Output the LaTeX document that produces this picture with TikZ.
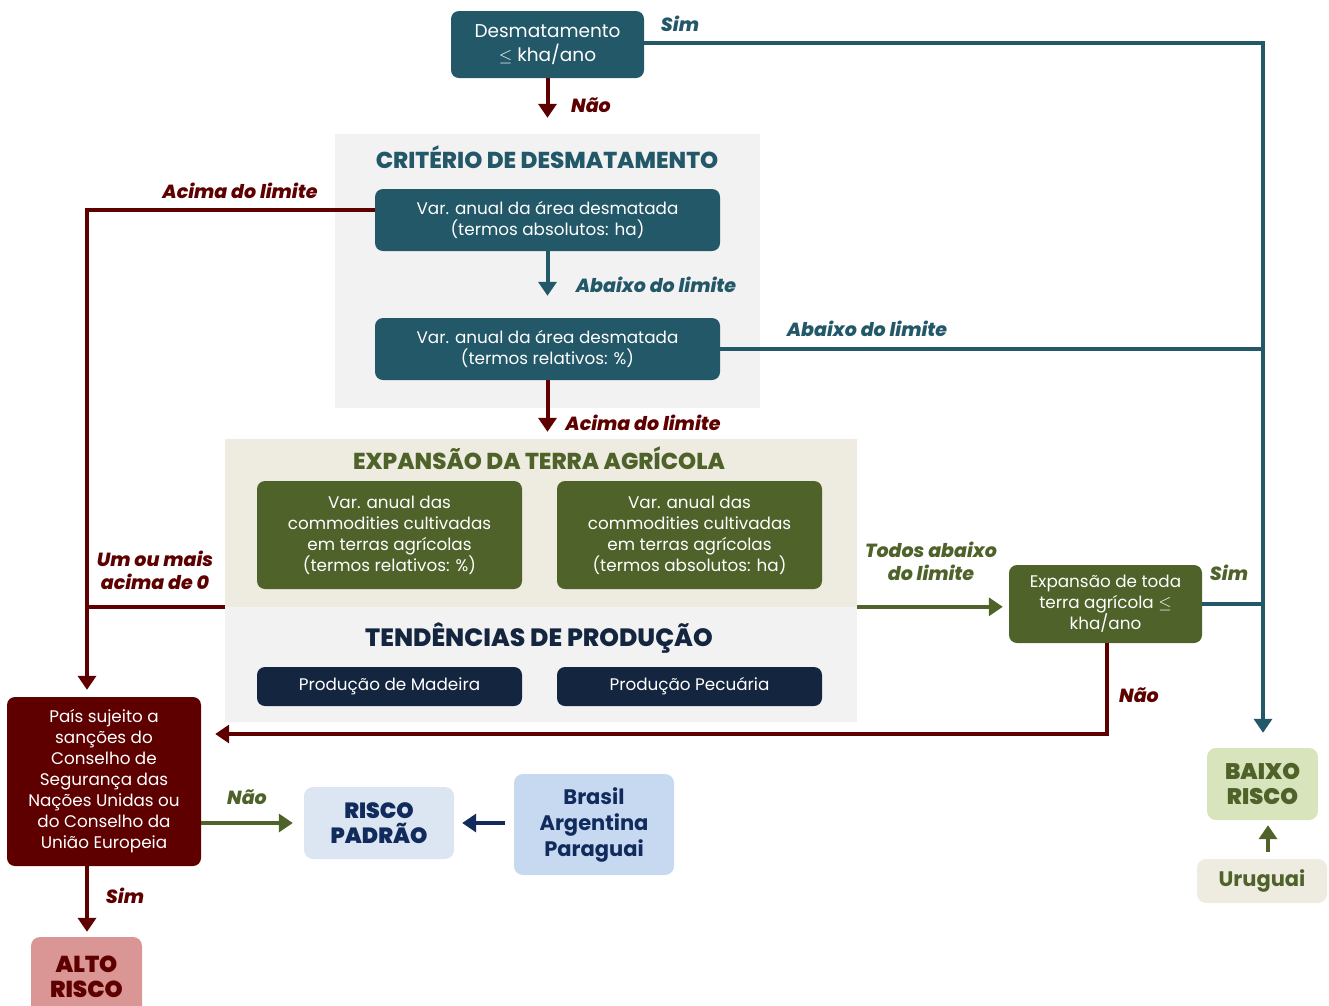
\documentclass[tikz,border=0pt]{standalone}
\usepackage{fontspec}
\setmainfont{Poppins}
\newfontfamily\heavy{Poppins}[UprightFont=* ExtraBold, ItalicFont=* ExtraBold Italic, BoldFont=* Black, BoldItalicFont=* Black Italic]
\usetikzlibrary{arrows.meta,calc}
\definecolor{teal}{HTML}{235868}
\definecolor{dred}{HTML}{5E0000}
\definecolor{olive}{HTML}{4E6229}
\definecolor{navy}{HTML}{13253F}
\definecolor{navyt}{HTML}{102B5C}
\definecolor{lgrey}{HTML}{F2F2F2}
\definecolor{beige}{HTML}{EEEBE0}
\definecolor{altobg}{HTML}{DA9694}
\definecolor{padbg}{HTML}{DCE6F2}
\definecolor{brbg}{HTML}{C6D9F1}
\definecolor{baixobg}{HTML}{D8E4BC}
\definecolor{urubg}{HTML}{EEECE1}
\tikzset{
  box/.style={rounded corners=8pt, align=center, inner sep=0pt, text=white,
    font=\fontsize{16.8}{21}\selectfont},
  panel/.style={inner sep=0pt, draw=none},
  conn/.style={line width=4pt},
  arr/.style={conn, -{Triangle[width=18pt,length=14pt]}},
  lbl/.style={font=\fontsize{19}{20}\selectfont\heavy\itshape, align=center},
  ttl/.style={font=\fontsize{23}{26}\selectfont\heavy},
  res/.style={rounded corners=9pt, align=center, inner sep=0pt,
    font=\fontsize{22.5}{25}\selectfont\heavy\bfseries},
}
\begin{document}
\begin{tikzpicture}[x=1pt,y=-1pt]
\useasboundingbox (0,0) rectangle (1329,1005);
% panels
\node[panel, fill=lgrey, minimum width=425pt, minimum height=274pt] (crit) at (547.5,271) {};
\node[panel, fill=beige, minimum width=632pt, minimum height=168pt] (expan) at (541,523) {};
\node[panel, fill=lgrey, minimum width=632pt, minimum height=115pt] (tend) at (541,664.5) {};
\node[ttl, text=teal] (critt) at (547,157) {CRITÉRIO DE DESMATAMENTO};
\node[ttl, text=olive] (expt) at (539,458) {EXPANSÃO DA TERRA AGRÍCOLA};
\node[ttl, text=navy, font=\fontsize{25}{28}\selectfont\heavy] (tendt) at (539,638) {TENDÊNCIAS DE PRODUÇÃO};
% boxes
\node[box, fill=teal, minimum width=193pt, minimum height=67pt, font=\fontsize{18.5}{24}\selectfont] (desm) at (547.5,44.5) {Desmatamento\\$\leq$ kha/ano};
\node[box, fill=teal, minimum width=345pt, minimum height=62pt] (b1) at (547.5,220) {Var. anual da área desmatada\\(termos absolutos: ha)};
\node[box, fill=teal, minimum width=345pt, minimum height=62pt] (b2) at (547.5,349) {Var. anual da área desmatada\\(termos relativos: \%)};
\node[box, fill=olive, minimum width=265pt, minimum height=108pt] (g1) at (389.5,535) {Var. anual das\\commodities cultivadas\\em terras agrícolas\\(termos relativos: \%)};
\node[box, fill=olive, minimum width=265pt, minimum height=108pt] (g2) at (689.5,535) {Var. anual das\\commodities cultivadas\\em terras agrícolas\\(termos absolutos: ha)};
\node[box, fill=navy, minimum width=265pt, minimum height=39pt] (n1) at (389.5,686.5) {Produção de Madeira};
\node[box, fill=navy, minimum width=265pt, minimum height=39pt] (n2) at (689.5,686.5) {Produção Pecuária};
\node[box, fill=olive, minimum width=193pt, minimum height=78pt] (ext) at (1105.5,604) {Expansão de toda\\terra agrícola $\leq$\\kha/ano};
\node[box, fill=dred, minimum width=194pt, minimum height=169pt] (sanc) at (104,781.5) {País sujeito a\\sanções do\\Conselho de\\Segurança das\\Nações Unidas ou\\do Conselho da\\União Europeia};
\node[res, fill=altobg, text=dred, minimum width=111pt, minimum height=80pt, font=\fontsize{23}{25}\selectfont\heavy\bfseries] (alto) at (86.5,977) {ALTO\\RISCO};
\node[res, fill=padbg, text=navyt, minimum width=150pt, minimum height=72pt, font=\fontsize{22}{25}\selectfont\heavy\bfseries] (pad) at (379,823) {RISCO\\PADRÃO};
\node[res, fill=brbg, text=navyt, minimum width=160pt, minimum height=101pt, font=\fontsize{21}{26}\selectfont\bfseries] (bras) at (594,824.5) {Brasil\\Argentina\\Paraguai};
\node[res, fill=baixobg, text=olive, minimum width=111pt, minimum height=72pt] (baixo) at (1262.5,784) {BAIXO\\RISCO};
\node[res, fill=urubg, text=olive, minimum width=130pt, minimum height=44pt, font=\fontsize{21}{25}\selectfont\bfseries] (uru) at (1262,881) {Uruguai};
% connectors
\coordinate (vl) at (87,0);
\coordinate (vr) at (1263,0);
\draw[arr, teal, shorten >=15pt] ([yshift=1.5pt]desm.east) -| (baixo.north -| vr);
\draw[conn, teal] (b2.east) -- (b2.east -| vr);
\draw[conn, teal] (ext.east) -- (ext.east -| vr);
\draw[arr, dred, shorten >=16pt] (desm.south) -- (crit.north);
\draw[arr, teal, shorten >=22pt] (b1.south) -- (b2.south |- b2.north);
\draw[arr, dred, shorten >=7pt] (b2.south) -- (b2.south |- expan.north);
\draw[arr, dred, shorten >=7pt] ([yshift=10pt]b1.west) -| (sanc.north -| vl);
\draw[conn, dred] (tend.north west) -- (tend.north west -| vl);
\draw[arr, olive, shorten >=6pt] (tend.north east) -- (tend.north east -| ext.west);
\draw[arr, dred, shorten >=14pt] ([xshift=1.5pt]ext.south) |- ([yshift=47.5pt]sanc.east);
\draw[arr, olive, shorten >=11pt] ([yshift=-41.5pt]sanc.east) -- ([yshift=-41.5pt]sanc.east -| pad.west);
\draw[arr, navyt, shorten <=9pt, shorten >=8pt] (bras.west |- pad.east) -- (pad.east);
\draw[arr, dred, shorten >=5pt] (sanc.south -| vl) -- (alto.north -| vl);
\draw[arr, olive, shorten <=7pt, shorten >=5pt] (uru.north -| 1268,0) -- (baixo.south -| 1268,0);
% labels
\node[lbl, text=teal] (l1) at (680,24) {Sim};
\node[lbl, text=dred] (l2) at (591,105) {Não};
\node[lbl, text=dred] (l3) at (240,191) {Acima do limite};
\node[lbl, text=teal] (l4) at (656,285) {Abaixo do limite};
\node[lbl, text=teal] (l5) at (867,329) {Abaixo do limite};
\node[lbl, text=dred] (l6) at (643,423) {Acima do limite};
\node[lbl, text=dred, font=\fontsize{19}{23}\selectfont\heavy\itshape] (l7) at (155,570) {Um ou mais\\acima de 0};
\node[lbl, text=olive, font=\fontsize{19}{23}\selectfont\heavy\itshape] (l8) at (931,561) {Todos abaixo\\do limite};
\node[lbl, text=olive] (l9) at (1229,573) {Sim};
\node[lbl, text=dred] (l10) at (1139,695) {Não};
\node[lbl, text=olive] (l11) at (247,797) {Não};
\node[lbl, text=dred] (l12) at (125,896) {Sim};
\end{tikzpicture}
\end{document}
